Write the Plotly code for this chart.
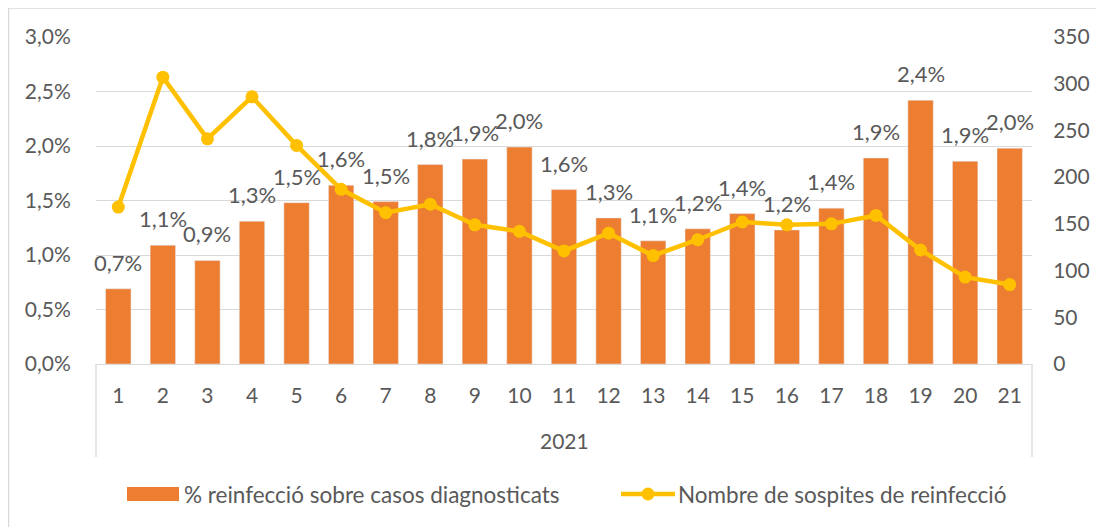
import plotly.graph_objects as go

weeks = [str(i) for i in range(1, 22)]
year_label = "2021"
pct_reinfection = [0.0069, 0.0109, 0.0095, 0.0131, 0.0148, 0.0164, 0.0149, 0.0183, 0.0188, 0.0199, 0.0160,
                   0.0134, 0.0113, 0.0124, 0.0138, 0.0123, 0.0143, 0.0189, 0.0242, 0.0186, 0.0198]
suspected_reinfections = [168, 307, 241, 286, 234, 187, 162, 171, 149, 142, 121,
                          140, 116, 133, 152, 149, 150, 159, 122, 93, 85]

bar_name = "% reinfecció sobre casos diagnosticats"
line_name = "Nombre de sospites de reinfecció"

BAR_COLOR = "#ED7D31"
LINE_COLOR = "#FFC000"
TEXT_COLOR = "#595959"
GRID_COLOR = "#D9D9D9"
FONT = "Lato"
FS = 21
LABEL_FS = 22
LEG_FS = 22.5

# page offset of the figure (default body margin)
OFF = 8
PAGE_W, PAGE_H = 1104, 527
W, H = PAGE_W - OFF, PAGE_H - OFF
# plot area in page pixels
PL, PR, PT, PB = 96, 1032, 37, 364
L, R, T, B = PL - OFF, PAGE_W - PR, PT - OFF, PAGE_H - PB
pw, ph = PR - PL, PB - PT


def px(xp):
    return (xp - PL) / pw


def py(yp):
    return (PB - yp) / ph


def fmt_pct(v):
    return f"{v * 100:.1f}".replace(".", ",") + "%"


fig = go.Figure()
fig.add_trace(go.Bar(
    x=weeks, y=pct_reinfection, name=bar_name, marker_color=BAR_COLOR, yaxis="y",
))
fig.add_trace(go.Scatter(
    x=weeks, y=suspected_reinfections, name=line_name, mode="lines+markers",
    line=dict(color=LINE_COLOR, width=4.5), marker=dict(color=LINE_COLOR, size=13),
    yaxis="y2", cliponaxis=False,
))

shapes = [
    dict(type="rect", xref="paper", yref="paper", x0=px(8.5), x1=1.5, y0=-1.0, y1=py(8),
         line=dict(color=GRID_COLOR, width=1.5), layer="below"),
    dict(type="line", xref="paper", yref="paper", x0=0, x1=0, y0=0, y1=py(457),
         line=dict(color=GRID_COLOR, width=1.3)),
    dict(type="line", xref="paper", yref="paper", x0=1, x1=1, y0=0, y1=py(457),
         line=dict(color=GRID_COLOR, width=1.3)),
    dict(type="rect", xref="paper", yref="paper", x0=px(127), x1=px(179), y0=py(501), y1=py(487),
         fillcolor=BAR_COLOR, line=dict(width=0)),
    dict(type="line", xref="paper", yref="paper", x0=px(621), x1=px(675), y0=py(494), y1=py(494),
         line=dict(color=LINE_COLOR, width=4.5)),
    dict(type="circle", xref="paper", yref="paper", xsizemode="pixel", ysizemode="pixel",
         xanchor=px(648), yanchor=py(494), x0=-6.5, x1=6.5, y0=-6.5, y1=6.5,
         fillcolor=LINE_COLOR, line=dict(width=0)),
]

annotations = [
    dict(text=year_label, xref="paper", yref="paper", x=0.5, y=py(440), showarrow=False,
         font=dict(family=FONT, size=FS, color=TEXT_COLOR), xanchor="center", yanchor="middle"),
    dict(text=bar_name, xref="paper", yref="paper", x=px(182), y=py(494), showarrow=False,
         font=dict(family=FONT, size=LEG_FS, color=TEXT_COLOR), xanchor="left", yanchor="middle"),
    dict(text=line_name, xref="paper", yref="paper", x=px(676), y=py(494), showarrow=False,
         font=dict(family=FONT, size=LEG_FS, color=TEXT_COLOR), xanchor="left", yanchor="middle"),
]
# data labels above the bars (category index positions on the x axis)
for i, v in enumerate(pct_reinfection):
    annotations.append(dict(
        text=fmt_pct(v), x=i, y=v, xref="x", yref="y", showarrow=False,
        xanchor="center", yanchor="bottom", yshift=11,
        font=dict(family=FONT, size=LABEL_FS, color=TEXT_COLOR),
    ))

fig.update_layout(
    width=W, height=H, margin=dict(l=L, r=R, t=T, b=B, pad=0),
    paper_bgcolor="white", plot_bgcolor="white",
    separators=", ",
    showlegend=False,
    bargap=0.43,
    font=dict(family=FONT, size=FS, color=TEXT_COLOR),
    xaxis=dict(type="category", range=[-0.5, len(weeks) - 0.5], autorange=False,
               showgrid=False, showline=True, linecolor=GRID_COLOR, linewidth=1.3,
               ticks="outside", ticklen=13, tickcolor="rgba(0,0,0,0)",
               tickfont=dict(family=FONT, size=FS, color=TEXT_COLOR)),
    yaxis=dict(range=[0, 0.03], dtick=0.005, tickformat=".1%", showgrid=True, gridcolor=GRID_COLOR,
               gridwidth=1.3, zeroline=False, showline=False, ticks="outside", ticklen=20,
               tickcolor="rgba(0,0,0,0)", tickfont=dict(family=FONT, size=FS, color=TEXT_COLOR)),
    yaxis2=dict(range=[0, 350], dtick=50, tickformat="d", overlaying="y", side="right",
                showgrid=False, zeroline=False, showline=False, ticks="outside", ticklen=16,
                tickcolor="rgba(0,0,0,0)", tickfont=dict(family=FONT, size=FS, color=TEXT_COLOR)),
    shapes=shapes,
    annotations=annotations,
)

fig.write_html("out.html")
